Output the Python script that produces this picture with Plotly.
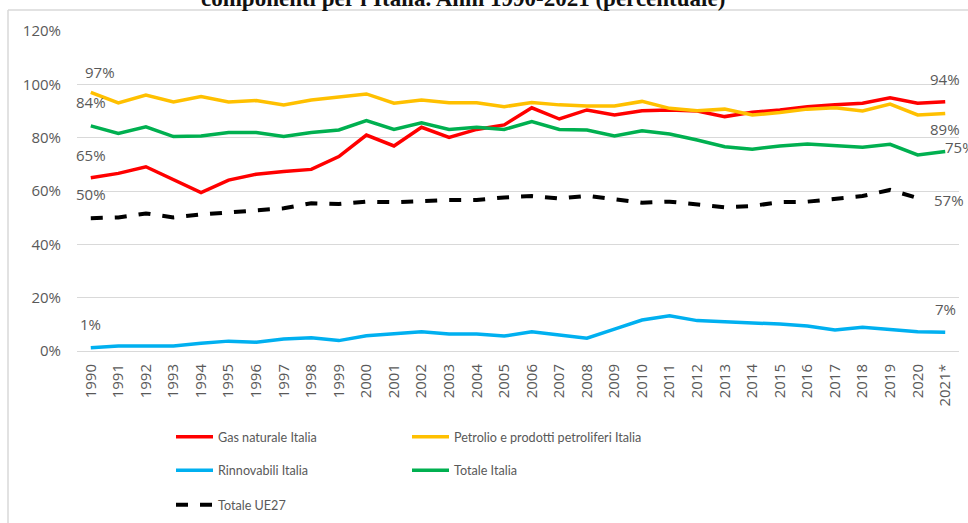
import plotly.graph_objects as go

years = ["1990","1991","1992","1993","1994","1995","1996","1997","1998","1999",
         "2000","2001","2002","2003","2004","2005","2006","2007","2008","2009",
         "2010","2011","2012","2013","2014","2015","2016","2017","2018","2019",
         "2020","2021*"]

gas_italia = [65.0, 66.6, 69.1, 64.1, 59.4, 64.1, 66.3, 67.3, 68.1, 72.9,
              81.0, 76.9, 83.9, 80.1, 83.1, 84.8, 91.2, 87.0, 90.4, 88.5,
              90.1, 90.4, 90.0, 87.9, 89.5, 90.4, 91.6, 92.3, 92.9, 95.0,
              92.9, 93.5]
petrolio_italia = [97.0, 93.0, 96.0, 93.4, 95.4, 93.4, 93.9, 92.3, 94.1, 95.1,
                   96.4, 92.9, 94.1, 93.1, 93.1, 91.6, 93.2, 92.3, 91.9, 91.9,
                   93.6, 91.0, 90.1, 90.7, 88.5, 89.4, 90.7, 91.2, 90.0, 92.6,
                   88.5, 89.1]
rinnovabili_italia = [1.25, 1.9, 1.9, 1.9, 2.9, 3.7, 3.3, 4.5, 5.0, 3.9,
                      5.7, 6.4, 7.2, 6.4, 6.4, 5.6, 7.2, 6.0, 4.8, 8.2,
                      11.6, 13.2, 11.4, 11.0, 10.6, 10.1, 9.4, 7.9, 8.9, 8.2,
                      7.2, 7.0]
totale_italia = [84.4, 81.6, 84.1, 80.4, 80.6, 81.9, 81.9, 80.4, 81.9, 82.9,
                 86.4, 83.1, 85.6, 83.1, 83.9, 83.1, 86.0, 83.1, 82.9, 80.6,
                 82.6, 81.4, 79.1, 76.6, 75.7, 76.9, 77.6, 76.9, 76.4, 77.5,
                 73.5, 74.8]
totale_ue27 = [49.8, 50.1, 51.6, 50.1, 51.2, 52.0, 52.6, 53.5, 55.4, 55.1,
               56.0, 55.8, 56.2, 56.6, 56.6, 57.6, 58.1, 57.2, 58.2, 57.0,
               55.6, 56.0, 54.8, 53.9, 54.4, 55.8, 56.0, 57.2, 58.1, 60.4,
               57.4, None]

title_text = "componenti per l'Italia. Anni 1990-2021 (percentuale)"

TICK_FONT = "'Open Sans', 'Liberation Sans', sans-serif"
LEG_FONT = "Lato, 'Open Sans', sans-serif"
GREY = "#595959"

W, H = 968, 523
ML, MR, MT, MB = 77, 9, 31, 172
PW = W - ML - MR
PH = H - MT - MB

def px_x(p):
    return (p - ML) / PW

def px_y(p):
    return (H - MB - p) / PH

series = [
    ("Gas naturale Italia", gas_italia, "#FF0000", "solid", "legend"),
    ("Petrolio e prodotti petroliferi Italia", petrolio_italia, "#FFC000", "solid", "legend"),
    ("Rinnovabili Italia", rinnovabili_italia, "#00B0F0", "solid", "legend2"),
    ("Totale Italia", totale_italia, "#00B050", "solid", "legend2"),
    ("Totale UE27", totale_ue27, "#000000", "dash", "legend3"),
]

fig = go.Figure()
for name, vals, color, dash, leg in series:
    fig.add_trace(go.Scatter(
        x=years, y=vals, name=name, mode="lines",
        line=dict(color=color, width=3.5 if dash == "solid" else 4, dash=dash),
        legend=leg,
    ))

def last_valid(vals):
    for i in range(len(vals) - 1, -1, -1):
        if vals[i] is not None:
            return i
    return None

# (series values, index, xshift, yshift)
labels = [
    (petrolio_italia, 0, 9, 20.6),
    (totale_italia, 0, 0, 24),
    (gas_italia, 0, 0, 22.7),
    (totale_ue27, 0, 0, 24),
    (rinnovabili_italia, 0, 0, 23.7),
    (gas_italia, -1, 0, 22.7),
    (petrolio_italia, -1, 0, -15.6),
    (totale_italia, -1, 15, 4.5),
    (totale_ue27, -1, 31, -1.6),
    (rinnovabili_italia, -1, 0, 23.3),
]
annotations = []
for vals, idx, xs, ys in labels:
    i = last_valid(vals) if idx == -1 else idx
    v = vals[i]
    annotations.append(dict(
        x=i, y=v, xref="x", yref="y",
        text=f"{round(v)}%", showarrow=False,
        xshift=xs, yshift=ys,
        font=dict(family=TICK_FONT, size=15, color=GREY),
    ))

annotations.append(dict(
    x=px_x(463), y=px_y(-1.7), xref="paper", yref="paper",
    text=f"<b>{title_text}</b>", showarrow=False,
    xanchor="center", yanchor="middle",
    font=dict(family="'Liberation Serif', 'DejaVu Serif', serif", size=23, color="#111111"),
))

shapes = [
    dict(type="line", xref="paper", yref="paper",
         x0=px_x(8), x1=px_x(968), y0=px_y(10), y1=px_y(10),
         line=dict(color="#D9D9D9", width=1.5)),
    dict(type="line", xref="paper", yref="paper",
         x0=px_x(8), x1=px_x(8), y0=px_y(10), y1=px_y(523),
         line=dict(color="#D9D9D9", width=1.5)),
]

leg_common = dict(
    orientation="h", xanchor="left", yanchor="middle",
    font=dict(family=LEG_FONT, size=12.6, color=GREY),
    bgcolor="rgba(0,0,0,0)", entrywidth=184, entrywidthmode="pixels",
    itemwidth=37, traceorder="normal",
)

fig.update_layout(
    width=W, height=H,
    margin=dict(l=ML, r=MR, t=MT, b=MB, autoexpand=False),
    paper_bgcolor="white", plot_bgcolor="white",
    showlegend=True,
    legend=dict(x=px_x(171), y=px_y(437), **leg_common),
    legend2=dict(x=px_x(171), y=px_y(470.5), **leg_common),
    legend3=dict(x=px_x(171), y=px_y(505), **leg_common),
    annotations=annotations,
    shapes=shapes,
    xaxis=dict(
        type="category", range=[-0.5, len(years) - 0.5],
        tickangle=-90, showgrid=False, showline=False, ticks="",
        tickfont=dict(family=TICK_FONT, size=15, color=GREY),
        ticklabelstandoff=9,
        fixedrange=True,
    ),
    yaxis=dict(
        range=[0, 120], tickvals=[0, 20, 40, 60, 80, 100, 120],
        ticktext=["0%", "20%", "40%", "60%", "80%", "100%", "120%"],
        showgrid=True, gridcolor="#D9D9D9", gridwidth=1,
        zeroline=True, zerolinecolor="#D9D9D9", zerolinewidth=1,
        showline=False, ticks="", ticklabelstandoff=15,
        tickfont=dict(family=TICK_FONT, size=15, color=GREY),
        fixedrange=True,
    ),
)

fig.write_html("out.html", config={"displayModeBar": False},
               post_script="document.body.style.margin='0px';")
